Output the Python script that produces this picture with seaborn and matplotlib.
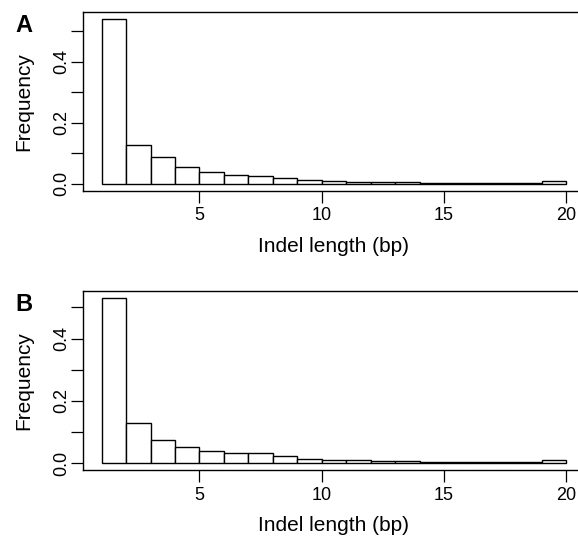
import numpy as np
import pandas as pd
import matplotlib
matplotlib.use("Agg")
import matplotlib.pyplot as plt
import seaborn as sns

# Indel length bins (left edges) and observed frequencies
bin_left = list(range(1, 20))
freq_a = [0.542, 0.127, 0.087, 0.057, 0.038, 0.0295, 0.025, 0.0184, 0.013, 0.0098,
          0.0066, 0.0055, 0.005, 0.003, 0.003, 0.002, 0.0015, 0.0015, 0.011]
freq_b = [0.531, 0.130, 0.0764, 0.053, 0.041, 0.034, 0.033, 0.0224, 0.0138, 0.0106,
          0.0096, 0.007, 0.006, 0.005, 0.005, 0.004, 0.004, 0.004, 0.012]
panel_letters = ["A", "B"]
xticks = [5, 10, 15, 20]
yticks = [0.0, 0.1, 0.2, 0.3, 0.4, 0.5]
ytick_labels = ["0.0", "", "0.2", "", "0.4", ""]
xlabel = "Indel length (bp)"
ylabel = "Frequency"

sns.set_style("white")
plt.rcParams["font.family"] = ["Liberation Sans", "DejaVu Sans"]
plt.rcParams["text.color"] = "black"
plt.rcParams["axes.labelcolor"] = "black"
plt.rcParams["xtick.color"] = "black"
plt.rcParams["ytick.color"] = "black"

W, H = 578, 538
fig = plt.figure(figsize=(W / 100, H / 100), dpi=100)

panels = [
    dict(freq=freq_a, top=12, bottom=190.5, letter_base=32),
    dict(freq=freq_b, top=291, bottom=470, letter_base=310.7),
]
left_px, right_px = 83, 585

for letter, p in zip(panel_letters, panels):
    ax = fig.add_axes([left_px / W, 1 - p["bottom"] / H,
                       (right_px - left_px) / W, (p["bottom"] - p["top"]) / H])
    df = pd.DataFrame({"x": [b + 0.5 for b in bin_left], "w": p["freq"]})
    sns.histplot(data=df, x="x", weights="w", bins=list(range(1, 21)),
                 stat="count", ax=ax, color="white", edgecolor="black",
                 linewidth=1.0, alpha=1.0)
    ymax = max(p["freq"])
    ax.set_xlim(1 - 0.04 * 19, 20 + 0.04 * 19)
    ax.set_ylim(-0.04 * ymax, 1.04 * ymax)
    ax.set_xticks(xticks)
    ax.set_xticklabels([str(t) for t in xticks])
    ax.set_yticks(yticks)
    ax.set_yticklabels(ytick_labels)
    ax.set_xlabel("")
    ax.set_ylabel("")
    for name, s in ax.spines.items():
        s.set_visible(name != "right")
        s.set_linewidth(1.0)
        s.set_color("black")
    ax.tick_params(axis="both", direction="out", length=8.4, width=0.9,
                   color="black", labelcolor="black", labelsize=13,
                   left=True, bottom=True)
    ax.tick_params(axis="x", pad=3.5)
    ax.tick_params(axis="y", pad=1.0)
    plt.setp(ax.get_yticklabels(), rotation=90, va="center", ha="right")
    ax.grid(False)

    fig.text(15 / W, 1 - p["letter_base"] / H, letter, fontsize=17,
             fontweight="bold", ha="left", va="baseline", color="black")
    fig.text(24 / W, 1 - (p["top"] + p["bottom"]) / 2 / H, ylabel,
             rotation=90, fontsize=15, ha="center", va="center", color="black")
    fig.text(334 / W, 1 - (p["bottom"] + 61.2) / H, xlabel,
             fontsize=15, ha="center", va="baseline", color="black")

fig.savefig("out.png", dpi=100)
